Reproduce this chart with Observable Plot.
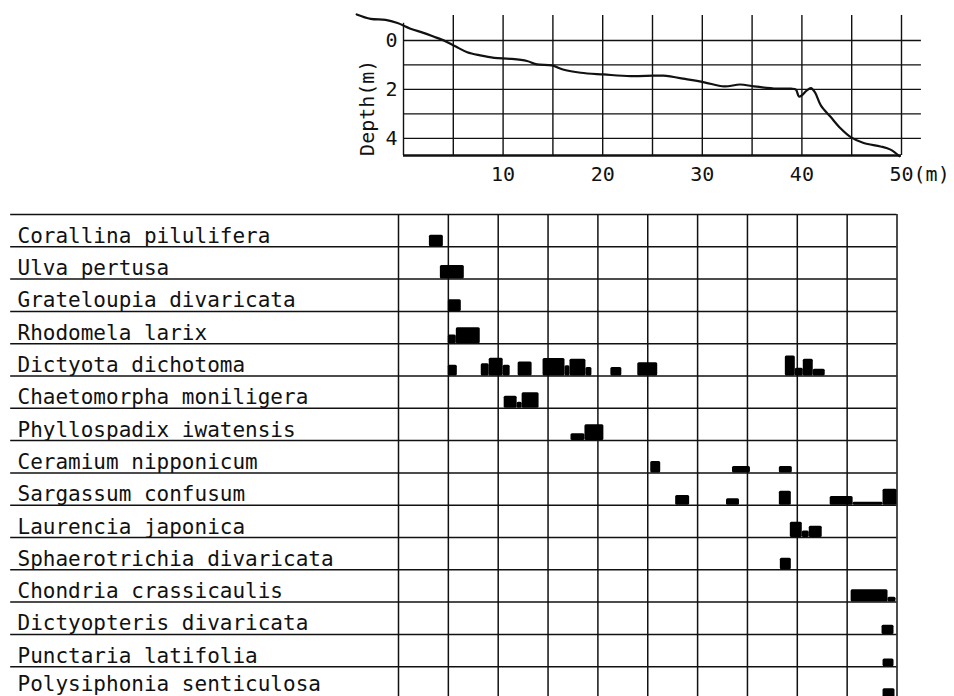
<!DOCTYPE html>
<html>
<head>
<meta charset="utf-8">
<script src="https://cdn.jsdelivr.net/npm/d3@7"></script>
<script src="https://cdn.jsdelivr.net/npm/@observablehq/plot@0.6"></script>
<style>
  html, body { margin: 0; padding: 0; background: #fff; overflow: hidden; }
  #wrap { position: relative; width: 954px; height: 696px; overflow: hidden; }
  #topPanel, #bottomPanel { position: absolute; left: 0; }
  #topPanel { top: 0; }
  #bottomPanel { top: 200px; }
  svg { font-family: "DejaVu Sans Mono", monospace; }
</style>
</head>
<body>
<div id="wrap"><div id="topPanel"></div><div id="bottomPanel"></div></div>
<script>
// ---- Depth profile along the transect ----
const profileDist  = [-4.7, -3.3, -1.8, -0.6, 0.7, 2.0, 3.0, 4.2, 5.2, 6.4, 7.7, 9.1, 10.7, 12.4, 13.4, 14.9, 16.1, 17.8, 20.1, 22.8, 25.1, 26.1, 28.5, 30.2, 32.2, 33.8, 35.2, 37.5, 38.9, 39.4, 39.7, 40.0, 40.5, 40.9, 41.3, 41.9, 42.9, 43.9, 44.9, 46.2, 47.9, 48.9, 49.8];
const profileDepth = [-1.06, -0.88, -0.84, -0.71, -0.48, -0.31, -0.16, 0.03, 0.24, 0.48, 0.61, 0.71, 0.75, 0.84, 0.98, 1.02, 1.2, 1.32, 1.39, 1.46, 1.44, 1.44, 1.59, 1.71, 1.88, 1.8, 1.88, 1.97, 1.97, 2.01, 2.29, 2.24, 2.04, 1.95, 2.11, 2.65, 3.13, 3.6, 3.95, 4.19, 4.33, 4.46, 4.73];
const depthTicks = [0, 2, 4];
const depthLines = [0, 1, 2, 3, 4];
const distTicks = [10, 20, 30, 40, 50];
const distLines = [5, 10, 15, 20, 25, 30, 35, 40, 45, 50];

// ---- Species distribution (segments: [from m, to m, abundance]) ----
const species = ["Corallina pilulifera", "Ulva pertusa", "Grateloupia divaricata", "Rhodomela larix", "Dictyota dichotoma", "Chaetomorpha moniligera", "Phyllospadix iwatensis", "Ceramium nipponicum", "Sargassum confusum", "Laurencia japonica", "Sphaerotrichia divaricata", "Chondria crassicaulis", "Dictyopteris divaricata", "Punctaria latifolia", "Polysiphonia senticulosa"];
const corallina = [[3.1, 4.5, 3.6]];
const ulva = [[4.2, 6.6, 4.2]];
const grateloupia = [[5.0, 6.3, 3.6]];
const rhodomela = [[5.0, 5.8, 2.7], [5.8, 8.2, 4.9]];
const dictyota = [[5.0, 5.9, 3.3], [8.3, 9.1, 3.8], [9.1, 10.5, 5.5], [10.5, 11.2, 3.3], [12.0, 13.4, 4.3], [14.5, 16.7, 5.4], [16.7, 17.2, 3.2], [17.2, 18.8, 5.2], [18.8, 19.4, 2.6], [21.3, 22.4, 2.6], [24.0, 26.0, 4.1], [38.8, 39.8, 6.2], [39.8, 40.6, 2.4], [40.6, 41.6, 5.2], [41.6, 42.8, 2.1]];
const chaetomorpha = [[10.6, 11.9, 3.7], [11.9, 12.4, 1.9], [12.4, 14.1, 4.8]];
const phyllospadix = [[17.3, 18.7, 2.1], [18.7, 20.6, 4.9]];
const ceramium = [[25.3, 26.3, 3.5], [33.5, 35.3, 2.0], [38.2, 39.5, 2.0]];
const sargassum = [[27.8, 29.2, 3.0], [32.9, 34.2, 2.0], [38.2, 39.4, 4.3], [43.3, 45.6, 2.7], [45.6, 48.6, 0.9], [48.6, 50.0, 4.9]];
const laurencia = [[39.3, 40.5, 4.7], [40.5, 41.2, 2.0], [41.2, 42.5, 3.5]];
const sphaerotrichia = [[38.3, 39.4, 3.6]];
const chondria = [[45.4, 49.1, 3.8], [49.1, 49.9, 1.5]];
const dictyopteris = [[48.5, 49.7, 2.8]];
const punctaria = [[48.6, 49.7, 2.4]];
const polysiphonia = [[48.6, 49.8, 3.2]];
const gridX = [0, 5, 10, 15, 20, 25, 30, 35, 40, 45, 50];

const segmentsBySpecies = [corallina, ulva, grateloupia, rhodomela, dictyota, chaetomorpha, phyllospadix, ceramium, sargassum, laurencia, sphaerotrichia, chondria, dictyopteris, punctaria, polysiphonia];
const bars = segmentsBySpecies.flatMap((segs, i) => segs.map(([from, to, a]) => ({species: species[i], row: i, from, to, a})));
const profile = profileDist.map((d, i) => ({dist: d, depth: profileDepth[i]}));
const rows = d3.range(species.length + 1);
const labelRows = species.map((name, i) => ({name, row: i}));

const ink = "#111";

// ---- Top panel ----
const topChart = Plot.plot({
  width: 954, height: 200,
  marginLeft: 403, marginRight: 53, marginTop: 13, marginBottom: 45,
  x: {domain: [0, 50], axis: null},
  y: {domain: [-1.1, 4.7], reverse: true, axis: null},
  style: {fontFamily: "DejaVu Sans Mono, monospace", background: "white", overflow: "visible"},
  marks: [
    Plot.ruleX(distLines, {y1: -1.02, y2: 4.7, stroke: ink, strokeWidth: 1.4}),
    Plot.ruleX([0], {y1: -0.7, y2: 4.7, stroke: ink, strokeWidth: 1.4}),
    Plot.ruleY(depthLines, {x1: 0, x2: 52, stroke: ink, strokeWidth: 1.4}),
    Plot.ruleY([4.7], {x1: 0, x2: 50, stroke: ink, strokeWidth: 2.6}),
    Plot.line(profile, {x: "dist", y: "depth", stroke: ink, strokeWidth: 2.2, curve: "catmull-rom"}),
    Plot.text(depthTicks, {x: 0, y: d => d, text: d => String(d), textAnchor: "end", dx: -6, fontSize: 20, fill: ink}),
    Plot.text(distTicks.filter(d => d < 50), {x: d => d, y: 4.7, text: d => String(d), dy: 19, fontSize: 20, fill: ink}),
    Plot.text(distTicks.filter(d => d === 50), {x: d => d, y: 4.7, text: d => d + "(m)", textAnchor: "start", dx: -12, dy: 19, fontSize: 20, fill: ink}),
    Plot.text(["Depth(m)"], {x: 0, y: 2.75, text: d => d, rotate: -90, dx: -36, fontSize: 20, fill: ink})
  ]
});
document.getElementById("topPanel").appendChild(topChart);

// ---- Bottom panel ----
const bottomChart = Plot.plot({
  width: 954, height: 500,
  marginLeft: 398, marginRight: 57.5, marginTop: 14, marginBottom: 1.5,
  x: {domain: [0, 50], axis: null},
  y: {domain: [0, 15], reverse: true, axis: null},
  style: {fontFamily: "DejaVu Sans Mono, monospace", background: "white", overflow: "visible"},
  marks: [
    Plot.ruleY(rows, {x1: -38.9, x2: 50, stroke: ink, strokeWidth: 1.5}),
    Plot.ruleX(gridX, {y1: 0, y2: 15, stroke: ink, strokeWidth: 1.5}),
    Plot.rect(bars, {x1: "from", x2: "to", y1: d => d.row + 1 - d.a / 10, y2: d => d.row + 1, fill: "#000", rx: 1.5}),
    Plot.text(labelRows.slice(0, -1), {x: 0, y: d => d.row + 1, text: "name", textAnchor: "start", lineAnchor: "bottom", dx: -381, dy: -4, fontSize: 21, fill: ink}),
    Plot.text(labelRows.slice(-1), {x: 0, y: d => d.row + 1, text: "name", textAnchor: "start", lineAnchor: "bottom", dx: -381, dy: -8, fontSize: 21, fill: ink})
  ]
});
document.getElementById("bottomPanel").appendChild(bottomChart);
</script>
</body>
</html>
